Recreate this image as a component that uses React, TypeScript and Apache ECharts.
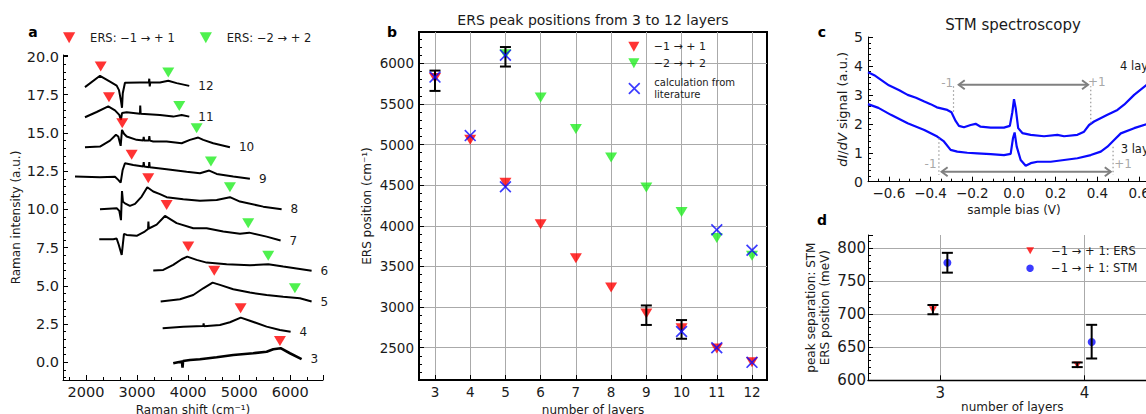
import React, { useEffect, useRef } from "react";
import * as echarts from "echarts";

const FONT = "DejaVu Sans";
const RED = "#ff0000";
const GREEN = "#22ee22";
const BLUE = "#0a0aff";
const GRAYLINE = "#aaaaaa";
const TRI_DOWN = "path://M0,0L10,0L5,9Z";
const XMARK = "path://M0,1L1,0L5,4L9,0L10,1L6,5L10,9L9,10L5,6L1,10L0,9L4,5Z";

// ---------------- Panel a: Raman spectra ----------------
const spectrum3 = [[3708,-0.07],[3800,0.0],[3880,0.05],[3890,-0.35],[3900,0.08],[4035,0.15],[4231,0.2],[4558,0.33],[4883,0.48],[5274,0.59],[5536,0.69],[5666,0.85],[5810,0.92],[5992,0.59],[6221,0.2]];
const spectrum4 = [[3501,2.22],[3904,2.33],[4296,2.38],[4303,2.55],[4310,2.35],[4622,2.44],[4818,2.62],[5030,2.92],[5209,2.72],[5536,2.33],[5797,2.11],[6006,2.0]];
const spectrum5 = [[3462,3.97],[3840,4.12],[4100,4.4],[4296,4.84],[4479,5.21],[4622,5.06],[4883,4.78],[5209,4.56],[5536,4.4],[5861,4.29],[6188,4.19],[6417,3.97]];
const spectrum6 = [[3317,6.0],[3513,6.04],[3708,6.37],[3873,6.74],[3982,6.91],[4166,6.7],[4362,6.52],[4753,6.41],[5209,6.35],[5568,6.41],[5861,6.26],[6417,5.98]];
const spectrum7 = [[2260,8.05],[2534,8.05],[2600,8.1],[2640,7.7],[2699,7.02],[2744,8.4],[2797,8.33],[2992,8.27],[3150,8.55],[3215,8.72],[3222,9.2],[3230,8.75],[3384,9.0],[3546,9.57],[3775,9.1],[4100,8.77],[4362,8.77],[4687,8.55],[5014,8.4],[5196,8.48],[5536,8.22],[5810,7.96]];
const spectrum8 = [[2274,10.01],[2601,10.08],[2652,9.9],[2685,9.3],[2705,11.2],[2724,10.5],[2763,10.4],[2860,10.23],[2960,10.36],[3090,10.84],[3200,11.45],[3317,11.17],[3448,11.0],[3579,10.8],[3904,10.67],[4231,10.56],[4558,10.62],[4818,10.8],[5014,10.51],[5470,10.18],[5830,10.01]];
const spectrum9 = [[1785,12.15],[2274,12.1],[2568,12.13],[2632,11.93],[2679,11.75],[2718,12.58],[2763,13.02],[2926,12.91],[3121,12.8],[3130,13.1],[3140,12.8],[3230,12.75],[3239,13.1],[3248,12.75],[3579,12.63],[3971,12.47],[4231,12.37],[4413,12.54],[4558,12.32],[4883,12.15],[5209,12.0]];
const spectrum10 = [[1980,14.07],[2274,14.11],[2470,14.5],[2587,14.88],[2632,14.77],[2679,14.16],[2705,15.2],[2744,14.95],[2797,14.77],[2992,14.55],[3121,14.5],[3130,14.75],[3140,14.5],[3230,14.5],[3240,14.8],[3250,14.5],[3317,14.44],[3579,14.44],[3873,14.33],[4035,14.55],[4198,14.7],[4296,14.55],[4491,14.33],[4818,14.07]];
const spectrum11 = [[1980,16.03],[2209,16.37],[2436,16.74],[2568,16.48],[2652,16.18],[2685,15.86],[2705,16.3],[2797,16.35],[3057,16.25],[3062,16.8],[3070,16.25],[3448,16.18],[3708,16.07],[3873,16.18],[4022,16.07]];
const spectrum12 = [[1980,18.0],[2274,18.74],[2470,18.36],[2601,18.1],[2646,17.8],[2685,17.1],[2705,16.65],[2720,17.6],[2763,18.28],[3057,18.3],[3230,18.3],[3239,18.55],[3248,18.05],[3258,18.3],[3448,18.3],[3611,18.41],[3775,18.26],[4022,18.08]];
const spectra = [spectrum3, spectrum4, spectrum5, spectrum6, spectrum7, spectrum8, spectrum9, spectrum10, spectrum11, spectrum12];
const spectrumLabels = ["3", "4", "5", "6", "7", "8", "9", "10", "11", "12"];
const ersRedA = [[5797,1.39],[5027,3.53],[4511,5.98],[4002,7.57],[3579,10.29],[3219,12.04],[2894,13.57],[2710,15.64],[2450,17.34],[2288,19.35]];
const ersGreenA = [[6090,4.84],[5568,6.96],[5176,9.1],[4818,11.45],[4446,13.13],[4166,15.31],[3826,16.77],[3611,18.95]];

// ---------------- Panel b: ERS peak positions ----------------
const layersB = [3, 4, 5, 6, 7, 8, 9, 10, 11, 12];
const ersM1 = [5820, 5060, 4530, 4020, 3600, 3240, 2920, 2740, 2490, 2320];
const layersB2 = [5, 6, 7, 8, 9, 10, 11, 12];
const ersM2 = [6110, 5580, 5190, 4840, 4470, 4170, 3850, 3630];
const calcLayers = [3, 4, 5, 5, 10, 11, 11, 12, 12];
const calcValues = [5830, 5110, 4480, 6100, 2700, 2500, 3950, 2320, 3700];
const errLayersB = [3, 5, 9, 10];
const errLowB = [5660, 5960, 2780, 2610];
const errHighB = [5910, 6200, 3020, 2840];

// ---------------- Panel c: STM spectroscopy ----------------
const bias4 = [-0.7,-0.67,-0.6,-0.55,-0.51,-0.47,-0.43,-0.4,-0.37,-0.32,-0.3,-0.28,-0.264,-0.24,-0.208,-0.184,-0.16,-0.112,-0.048,-0.02,-0.008,0.0,0.008,0.02,0.04,0.08,0.144,0.208,0.24,0.304,0.336,0.36,0.384,0.448,0.496,0.528,0.576,0.64];
const signal4 = [3.78,3.68,3.33,3.16,3.0,2.9,2.77,2.68,2.57,2.48,2.4,2.1,1.93,1.88,1.96,2.0,1.9,1.87,1.87,1.93,2.4,2.85,2.55,1.85,1.68,1.62,1.57,1.62,1.57,1.62,1.73,1.96,2.08,2.31,2.48,2.66,3.0,3.37];
const bias3 = [-0.7,-0.65,-0.59,-0.51,-0.43,-0.368,-0.336,-0.304,-0.272,-0.224,-0.176,-0.112,-0.048,-0.016,-0.005,0.003,0.013,0.032,0.056,0.08,0.112,0.176,0.24,0.304,0.368,0.416,0.448,0.48,0.512,0.576,0.64];
const signal3 = [2.68,2.55,2.31,2.02,1.79,1.56,1.39,1.1,1.04,1.0,0.98,0.95,0.92,0.96,1.5,1.7,1.21,0.75,0.55,0.64,0.69,0.69,0.75,0.81,0.92,1.04,1.21,1.44,1.67,1.85,2.0];
// peak separation annotations: [from bias, to bias, signal level]
const arrowsC = [[-0.265, 0.355, 3.35], [-0.347, 0.464, 0.346]];
// peak marker lines: [bias, signal from, signal to]
const peakLinesC = [[-0.29, 2.42, 3.3], [0.368, 2.02, 3.3], [-0.36, 1.5, 0.23], [0.475, 1.21, 0.23]];
const peakTextC = ["-1", "+1", "-1", "+1"];
const peakTextPosC = [[-0.32, 3.41], [0.397, 3.43], [-0.4, 0.61], [0.523, 0.61]];

// ---------------- Panel d: STM vs ERS ----------------
const layersD = [3, 4];
const ersD = [707, 623];
const ersLowD = [700, 620];
const ersHighD = [714, 627];
const stmD = [778, 658];
const stmLowD = [763, 633];
const stmHighD = [793, 684];
const DODGE = 0.05;

const errorBarRender = (halfCap: number, width: number) => (_params: any, api: any) => {
  const x = api.value(0);
  const lo = api.coord([x, api.value(1)]);
  const hi = api.coord([x, api.value(2)]);
  const style = { stroke: "#000", lineWidth: width };
  return {
    type: "group",
    children: [
      { type: "line", shape: { x1: lo[0], y1: lo[1], x2: hi[0], y2: hi[1] }, style },
      { type: "line", shape: { x1: lo[0] - halfCap, y1: lo[1], x2: lo[0] + halfCap, y2: lo[1] }, style },
      { type: "line", shape: { x1: hi[0] - halfCap, y1: hi[1], x2: hi[0] + halfCap, y2: hi[1] }, style },
    ],
  };
};

const arrowRender = (_params: any, api: any) => {
  const y = api.value(2);
  const p1 = api.coord([api.value(0), y]);
  const p2 = api.coord([api.value(1), y]);
  const h = 6, a = 4.5;
  const style = { stroke: "#808080", lineWidth: 2, fill: "none" };
  return {
    type: "group",
    children: [
      { type: "line", shape: { x1: p1[0], y1: p1[1], x2: p2[0], y2: p2[1] }, style },
      { type: "polyline", shape: { points: [[p1[0] + h, p1[1] - a], [p1[0], p1[1]], [p1[0] + h, p1[1] + a]] }, style },
      { type: "polyline", shape: { points: [[p2[0] - h, p2[1] - a], [p2[0], p2[1]], [p2[0] - h, p2[1] + a]] }, style },
    ],
  };
};

const dottedRender = (_params: any, api: any) => {
  const x = api.value(0);
  const p1 = api.coord([x, api.value(1)]);
  const p2 = api.coord([x, api.value(2)]);
  return {
    type: "line",
    shape: { x1: p1[0], y1: p1[1], x2: p2[0], y2: p2[1] },
    style: { stroke: "#999999", lineWidth: 1.2, lineDash: [1.5, 2.5] },
  };
};

const minus = (v: number, d: number) => (v < 0 ? "\u2212" + (-v).toFixed(d) : v.toFixed(d));
const plain = (v: number) => String(v);

const axisBase = (o: any) => ({
  type: "value",
  axisLine: { show: true, onZero: false, lineStyle: { color: "#000", width: 1 } },
  axisTick: { show: true, inside: true, length: 5, lineStyle: { color: "#000", width: 1 } },
  minorTick: { show: true, splitNumber: 5, length: 3, lineStyle: { color: "#000", width: 1 } },
  splitLine: { show: false },
  nameLocation: "middle",
  nameTextStyle: { fontFamily: FONT, fontSize: 12, color: "#1a1a1a" },
  ...o,
  axisLabel: { color: "#1a1a1a", fontFamily: FONT, showMinLabel: false, showMaxLabel: false, formatter: plain, ...(o.axisLabel || {}) },
});

const gridLines = { show: true, showMinLine: false, showMaxLine: false, lineStyle: { color: GRAYLINE, width: 1 } };

export default function App() {
  const ref = useRef<HTMLDivElement>(null);
  useEffect(() => {
    if (!ref.current) return;
    const chart = echarts.init(ref.current, null, { renderer: "svg" });

    const spectraSeries = spectra.map((d, i) => ({
      type: "line",
      xAxisIndex: 0,
      yAxisIndex: 0,
      data: d,
      showSymbol: false,
      symbol: "none",
      lineStyle: { color: "#000", width: i === 0 ? 2.6 : 2 },
      endLabel: { show: true, formatter: spectrumLabels[i], color: "#1a1a1a", fontSize: 12, fontFamily: FONT, distance: 9 },
      z: 2,
    }));

    const option: any = {
      animation: false,
      textStyle: { fontFamily: FONT },
      grid: [
        { left: 63, top: 55, width: 260, height: 325, outerBoundsMode: "none" },
        { left: 419, top: 32, width: 348, height: 348, show: true, borderColor: "#000", borderWidth: 2, backgroundColor: "transparent", outerBoundsMode: "none" },
        { left: 868, top: 37, width: 292, height: 144.7, outerBoundsMode: "none" },
        { left: 868, top: 235, width: 288.6, height: 145.3, outerBoundsMode: "none" },
      ],
      xAxis: [
        axisBase({ gridIndex: 0, min: 1550, max: 6640, minInterval: 1000, maxInterval: 1000, name: "Raman shift (cm\u207B\u00B9)", nameGap: 16, minorTick: { show: true, splitNumber: 3, length: 3, lineStyle: { color: "#000" } }, axisLabel: { fontSize: 14.5, margin: 4 } }),
        axisBase({ gridIndex: 1, min: 2.546, max: 12.426, minInterval: 1, maxInterval: 1, name: "number of layers", nameGap: 19, axisLine: { show: false, onZero: false }, minorTick: { show: false }, splitLine: gridLines, axisLabel: { fontSize: 13.5, margin: 5 } }),
        axisBase({ gridIndex: 2, min: -0.7, max: 0.7, minInterval: 0.2, maxInterval: 0.2, name: "sample bias (V)", nameGap: 22, minorTick: { show: true, splitNumber: 4, length: 3, lineStyle: { color: "#000" } }, axisLabel: { fontSize: 13.5, margin: 4, formatter: (v: number) => minus(v, 1) } }),
        axisBase({ gridIndex: 3, min: 2.5, max: 4.5, minInterval: 1, maxInterval: 1, name: "number of layers", nameGap: 19, axisLine: { show: true, onZero: false, lineStyle: { color: "#000", width: 1.3 } }, minorTick: { show: false }, splitLine: gridLines, axisLabel: { fontSize: 15, margin: 5 } }),
      ],
      yAxis: [
        axisBase({ gridIndex: 0, min: -1.16, max: 20.1, minInterval: 2.5, maxInterval: 2.5, name: "Raman intensity (a.u.)", nameGap: 41, axisLabel: { fontSize: 14.5, margin: 4, formatter: (v: number) => v.toFixed(1) } }),
        axisBase({ gridIndex: 1, min: 2102.5, max: 6385, minInterval: 500, maxInterval: 500, name: "ERS position (cm\u207B\u00B9)", nameGap: 46, axisLine: { show: false, onZero: false }, splitLine: gridLines, axisLabel: { fontSize: 13.5, margin: 5 } }),
        axisBase({ gridIndex: 2, min: 0, max: 5, minInterval: 1, maxInterval: 1, name: "{it|dI}/{it|dV} signal (a.u.)", nameGap: 19, nameTextStyle: { fontFamily: FONT, fontSize: 13, color: "#1a1a1a", rich: { it: { fontStyle: "italic", fontSize: 13, fontFamily: FONT } } }, axisLabel: { fontSize: 14, margin: 5, showMinLabel: true, showMaxLabel: true } }),
        axisBase({ gridIndex: 3, min: 600, max: 820, minInterval: 50, maxInterval: 50, name: "peak separation: STM\nERS position (meV)", nameGap: 36, nameTextStyle: { fontFamily: FONT, fontSize: 12, color: "#1a1a1a", lineHeight: 14 }, splitLine: gridLines, axisLabel: { fontSize: 15, margin: 2, showMinLabel: true } }),
      ],
      legend: [
        { left: 63, top: 30.7, padding: 0, itemWidth: 32, itemHeight: 11, selectedMode: false, textStyle: { fontSize: 11.5, lineHeight: 14, color: "#1a1a1a", fontFamily: FONT }, data: [{ name: "ERS: \u22121 \u2192 + 1", icon: TRI_DOWN }] },
        { left: 199.7, top: 30.7, padding: 0, itemWidth: 32, itemHeight: 11, selectedMode: false, textStyle: { fontSize: 11.5, lineHeight: 14, color: "#1a1a1a", fontFamily: FONT }, data: [{ name: "ERS: \u22122 \u2192 + 2", icon: TRI_DOWN }] },
        { left: 628.3, top: 39.7, padding: 0, itemWidth: 30, itemHeight: 10, selectedMode: false, textStyle: { fontSize: 11, lineHeight: 14, color: "#1a1a1a", fontFamily: FONT }, data: [{ name: "\u22121 \u2192 + 1", icon: TRI_DOWN }] },
        { left: 628.3, top: 56.3, padding: 0, itemWidth: 30, itemHeight: 10, selectedMode: false, textStyle: { fontSize: 11, lineHeight: 14, color: "#1a1a1a", fontFamily: FONT }, data: [{ name: "\u22122 \u2192 + 2", icon: TRI_DOWN }] },
        { left: 628.3, top: 76, padding: 0, itemWidth: 30, itemHeight: 12, selectedMode: false, textStyle: { fontSize: 10, lineHeight: 12.5, color: "#1a1a1a", fontFamily: FONT }, data: [{ name: "calculation from\nliterature", icon: XMARK }] },
        { left: 1026.3, top: 243.7, padding: 0, itemWidth: 32, itemHeight: 7, selectedMode: false, textStyle: { fontSize: 11.5, lineHeight: 14, color: "#1a1a1a", fontFamily: FONT }, data: [{ name: "\u22121 \u2192 + 1: ERS", icon: TRI_DOWN }] },
        { left: 1026.3, top: 261.3, padding: 0, itemWidth: 32, itemHeight: 7.5, selectedMode: false, textStyle: { fontSize: 11.5, lineHeight: 14, color: "#1a1a1a", fontFamily: FONT }, data: [{ name: "\u22121 \u2192 + 1: STM", icon: "circle" }] },
      ],
      graphic: [
        { type: "text", x: 33, y: 32, style: { text: "a", font: `bold 14px ${FONT}`, fill: "#000", align: "center", verticalAlign: "middle" } },
        { type: "text", x: 392, y: 32, style: { text: "b", font: `bold 14px ${FONT}`, fill: "#000", align: "center", verticalAlign: "middle" } },
        { type: "text", x: 822, y: 32, style: { text: "c", font: `bold 14px ${FONT}`, fill: "#000", align: "center", verticalAlign: "middle" } },
        { type: "text", x: 822, y: 220, style: { text: "d", font: `bold 14px ${FONT}`, fill: "#000", align: "center", verticalAlign: "middle" } },
        { type: "text", x: 593, y: 20, style: { text: "ERS peak positions from 3 to 12 layers", font: `14px ${FONT}`, fill: "#1a1a1a", align: "center", verticalAlign: "middle" } },
        { type: "text", x: 1013, y: 25, style: { text: "STM spectroscopy", font: `15px ${FONT}`, fill: "#1a1a1a", align: "center", verticalAlign: "middle" } },
        { type: "text", x: 1120, y: 66, style: { text: "4 layers", font: `11.5px ${FONT}`, fill: "#1a1a1a", align: "left", verticalAlign: "middle" } },
        { type: "text", x: 1120.7, y: 149, style: { text: "3 layers", font: `11.5px ${FONT}`, fill: "#1a1a1a", align: "left", verticalAlign: "middle" } },
      ],
      series: [
        ...spectraSeries,
        { name: "ERS: \u22121 \u2192 + 1", type: "scatter", xAxisIndex: 0, yAxisIndex: 0, data: ersRedA, symbol: "triangle", symbolRotate: 180, symbolSize: [12, 10], itemStyle: { color: RED }, z: 5 },
        { name: "ERS: \u22122 \u2192 + 2", type: "scatter", xAxisIndex: 0, yAxisIndex: 0, data: ersGreenA, symbol: "triangle", symbolRotate: 180, symbolSize: [12, 10], itemStyle: { color: GREEN }, z: 5 },

        { name: "\u22121 \u2192 + 1", type: "scatter", xAxisIndex: 1, yAxisIndex: 1, data: layersB.map((l, i) => [l, ersM1[i]]), symbol: "triangle", symbolRotate: 180, symbolSize: [12, 10], itemStyle: { color: RED }, z: 3 },
        { name: "\u22122 \u2192 + 2", type: "scatter", xAxisIndex: 1, yAxisIndex: 1, data: layersB2.map((l, i) => [l, ersM2[i]]), symbol: "triangle", symbolRotate: 180, symbolSize: [12, 10], itemStyle: { color: GREEN }, z: 3 },
        { type: "custom", xAxisIndex: 1, yAxisIndex: 1, data: errLayersB.map((l, i) => [l, errLowB[i], errHighB[i]]), encode: { x: 0, y: [1, 2] }, renderItem: errorBarRender(5.5, 2), z: 4 },
        { name: "calculation from\nliterature", type: "scatter", xAxisIndex: 1, yAxisIndex: 1, data: calcLayers.map((l, i) => [l, calcValues[i]]), symbol: XMARK, symbolSize: 12, itemStyle: { color: BLUE }, z: 5 },

        { type: "line", xAxisIndex: 2, yAxisIndex: 2, data: bias4.map((b, i) => [b, signal4[i]]), showSymbol: false, symbol: "none", lineStyle: { color: BLUE, width: 2.2 } },
        { type: "line", xAxisIndex: 2, yAxisIndex: 2, data: bias3.map((b, i) => [b, signal3[i]]), showSymbol: false, symbol: "none", lineStyle: { color: BLUE, width: 2.2 } },
        { type: "custom", xAxisIndex: 2, yAxisIndex: 2, data: arrowsC, encode: { x: [0, 1], y: 2 }, renderItem: arrowRender, z: 4 },
        { type: "custom", xAxisIndex: 2, yAxisIndex: 2, data: peakLinesC, encode: { x: 0, y: [1, 2] }, renderItem: dottedRender, z: 4 },
        { type: "scatter", xAxisIndex: 2, yAxisIndex: 2, symbolSize: 0, data: peakTextPosC.map((p, i) => ({ name: peakTextC[i], value: p })), label: { show: true, position: "inside", formatter: (p: any) => p.name, color: "#909090", fontSize: 12, fontFamily: FONT }, z: 4 },

        { name: "\u22121 \u2192 + 1: ERS", type: "scatter", xAxisIndex: 3, yAxisIndex: 3, data: layersD.map((l, i) => [l - DODGE, ersD[i]]), symbol: "triangle", symbolRotate: 180, symbolSize: [8, 7], itemStyle: { color: RED }, z: 3 },
        { name: "\u22121 \u2192 + 1: STM", type: "scatter", xAxisIndex: 3, yAxisIndex: 3, data: layersD.map((l, i) => [l + DODGE, stmD[i]]), symbol: "circle", symbolSize: 8, itemStyle: { color: BLUE }, z: 3 },
        { type: "custom", xAxisIndex: 3, yAxisIndex: 3, data: layersD.map((l, i) => [l - DODGE, ersLowD[i], ersHighD[i]]), encode: { x: 0, y: [1, 2] }, renderItem: errorBarRender(5.5, 2), z: 4 },
        { type: "custom", xAxisIndex: 3, yAxisIndex: 3, data: layersD.map((l, i) => [l + DODGE, stmLowD[i], stmHighD[i]]), encode: { x: 0, y: [1, 2] }, renderItem: errorBarRender(5.5, 2), z: 4 },
      ],
    };
    chart.setOption(option);
    return () => chart.dispose();
  }, []);
  return <div ref={ref} style={{ position: "absolute", left: 0, top: 0, width: 1146, height: 414, background: "#fff" }} />;
}
